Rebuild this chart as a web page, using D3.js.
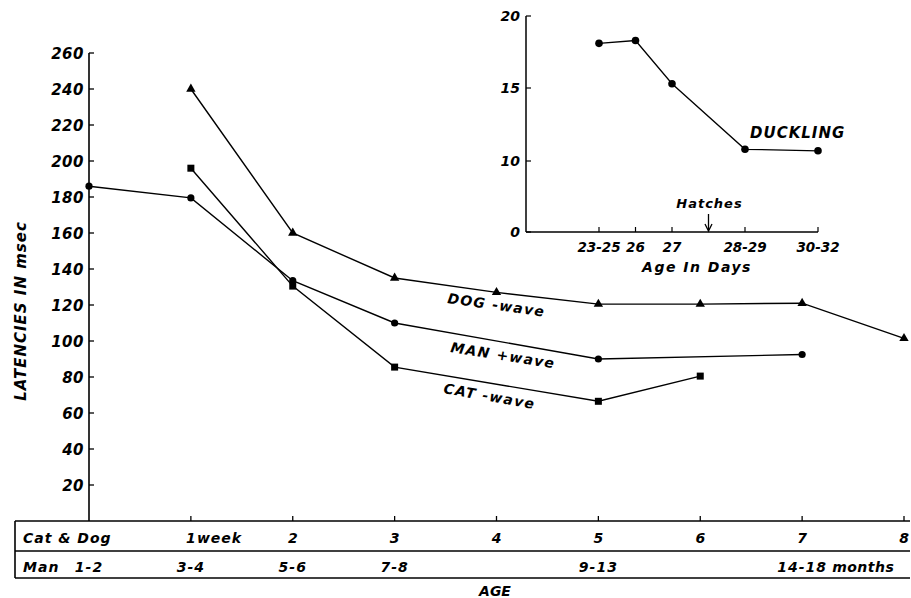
<!doctype html>
<html>
  <head>
    <script src="https://cdnjs.cloudflare.com/ajax/libs/d3/7.8.5/d3.min.js"></script>
    <style>
      body { margin: 0; background: #fff; }
      text { font-family: "DejaVu Sans", sans-serif; font-weight: bold; font-style: italic; fill: #000; }
    </style>
  </head>
  <body>
    <svg id="chart" width="911" height="598"></svg>
    <script>
      // main chart data (age slot index -> latency msec)
      var dogAge = [1, 2, 3, 4, 5, 6, 7, 8];
      var dogLatency = [240, 160, 135, 127, 120.5, 120.5, 121, 101.5];
      var manAge = [0, 1, 2, 3, 5, 7];
      var manLatency = [186, 179.5, 133.5, 110, 90, 92.5];
      var catAge = [1, 2, 3, 5, 6];
      var catLatency = [196, 130.5, 85.5, 66.5, 80.5];

      var yTicks = [20, 40, 60, 80, 100, 120, 140, 160, 180, 200, 220, 240, 260];
      var catDogLabels = ["", "1", "2", "3", "4", "5", "6", "7", "8"];
      var manLabels = ["1-2", "3-4", "5-6", "7-8", "", "9-13", "", "14-18", ""];

      // inset (duckling) data
      var duckSlot = [2, 3, 4, 6, 8];
      var duckLabels = ["23-25", "26", "27", "28-29", "30-32"];
      var duckLatency = [18.1, 18.3, 15.3, 10.8, 10.7];
      var duckYTicks = [0, 10, 15, 20];
      var hatchSlot = 5;

      var svg = d3.select("#chart");

      var x = d3.scaleLinear().domain([0, 8]).range([89, 904]);
      var y = d3.scaleLinear().domain([0, 260]).range([521, 53]);

      // y axis
      svg.append("line").attr("x1", x(0)).attr("x2", x(0))
        .attr("y1", y(260)).attr("y2", y(0))
        .attr("stroke", "#000").attr("stroke-width", 1.6);
      svg.selectAll(".ytick").data(yTicks).enter().append("line")
        .attr("x1", x(0)).attr("x2", x(0) + 5)
        .attr("y1", d => y(d)).attr("y2", d => y(d))
        .attr("stroke", "#000").attr("stroke-width", 1.3);
      svg.selectAll(".ylab").data(yTicks).enter().append("text")
        .attr("x", x(0) - 5).attr("y", d => y(d) + 5.5)
        .attr("text-anchor", "end").style("font-size", "15px")
        .style("letter-spacing", "0.5px")
        .text(d => d);

      svg.append("text")
        .attr("transform", "translate(26," + 311 + ") rotate(-90)")
        .attr("text-anchor", "middle").style("font-size", "15px")
        .style("letter-spacing", "1px")
        .text("LATENCIES IN msec");

      // table under the chart
      var tLeft = 15, tRight = 910, tTop = y(0), tMid = 551, tBottom = 578;
      [tTop, tMid, tBottom].forEach(function (yy) {
        svg.append("line").attr("x1", tLeft).attr("x2", tRight)
          .attr("y1", yy).attr("y2", yy)
          .attr("stroke", "#000").attr("stroke-width", 1.6);
      });
      svg.append("line").attr("x1", tLeft).attr("x2", tLeft)
        .attr("y1", tTop).attr("y2", tBottom)
        .attr("stroke", "#000").attr("stroke-width", 1.6);

      svg.selectAll(".xtick").data(d3.range(1, 9)).enter().append("line")
        .attr("x1", d => x(d)).attr("x2", d => x(d))
        .attr("y1", tTop).attr("y2", tTop - 5)
        .attr("stroke", "#000").attr("stroke-width", 1.3);

      svg.append("text").attr("x", 23).attr("y", 543)
        .style("font-size", "14px").style("letter-spacing", "1px").text("Cat & Dog");
      svg.append("text").attr("x", 23).attr("y", 572)
        .style("font-size", "14px").style("letter-spacing", "1px").text("Man");

      svg.selectAll(".cdlab").data(catDogLabels).enter().append("text")
        .attr("x", (d, i) => x(i)).attr("y", 543)
        .attr("text-anchor", "middle").style("font-size", "14px")
        .text(d => d);
      svg.append("text").attr("x", x(1) + 6).attr("y", 543)
        .style("font-size", "14px").style("letter-spacing", "1px").text("week");

      svg.selectAll(".manlab").data(manLabels).enter().append("text")
        .attr("x", (d, i) => x(i)).attr("y", 572)
        .attr("text-anchor", "middle").style("font-size", "14px")
        .style("letter-spacing", "1px")
        .text(d => d);
      svg.append("text").attr("x", x(7) + 30).attr("y", 572)
        .style("font-size", "14px").style("letter-spacing", "0.5px").text("months");

      svg.append("text").attr("x", 495).attr("y", 596)
        .attr("text-anchor", "middle").style("font-size", "14px").text("AGE");

      // series
      var line = d3.line().x(d => x(d[0])).y(d => y(d[1]));
      function series(ages, vals) { return ages.map((a, i) => [a, vals[i]]); }

      var dog = series(dogAge, dogLatency);
      var man = series(manAge, manLatency);
      var cat = series(catAge, catLatency);

      [dog, man, cat].forEach(function (s) {
        svg.append("path").datum(s).attr("d", line)
          .attr("fill", "none").attr("stroke", "#000").attr("stroke-width", 1.4);
      });

      svg.selectAll(".dogpt").data(dog).enter().append("path")
        .attr("transform", d => "translate(" + x(d[0]) + "," + y(d[1]) + ")")
        .attr("d", d3.symbol().type(d3.symbolTriangle).size(38))
        .attr("fill", "#000");
      svg.selectAll(".manpt").data(man).enter().append("circle")
        .attr("cx", d => x(d[0])).attr("cy", d => y(d[1])).attr("r", 3.6)
        .attr("fill", "#000");
      svg.selectAll(".catpt").data(cat).enter().append("rect")
        .attr("x", d => x(d[0]) - 3.5).attr("y", d => y(d[1]) - 3.5)
        .attr("width", 7).attr("height", 7).attr("fill", "#000");

      // series labels
      var seriesLabels = [
        { text: "DOG -wave", x: 447, y: 303, a: 8 },
        { text: "MAN +wave", x: 450, y: 352, a: 9 },
        { text: "CAT -wave", x: 443, y: 393, a: 10 }
      ];
      svg.selectAll(".slab").data(seriesLabels).enter().append("text")
        .attr("transform", d => "translate(" + d.x + "," + d.y + ") rotate(" + d.a + ")")
        .style("font-size", "14px").style("letter-spacing", "1.3px")
        .text(d => d.text);

      // inset
      var ix = d3.scaleLinear().domain([0, 8]).range([526, 818]);
      var iy = d3.scaleLinear().domain([0, 10, 15, 20]).range([232, 161, 88, 16]);

      svg.append("line").attr("x1", ix(0)).attr("x2", ix(0))
        .attr("y1", iy(20)).attr("y2", iy(0))
        .attr("stroke", "#000").attr("stroke-width", 1.5);
      svg.append("line").attr("x1", ix(0)).attr("x2", ix(8))
        .attr("y1", iy(0)).attr("y2", iy(0))
        .attr("stroke", "#000").attr("stroke-width", 1.5);
      svg.selectAll(".iytick").data(duckYTicks).enter().append("line")
        .attr("x1", ix(0)).attr("x2", ix(0) + 5)
        .attr("y1", d => iy(d)).attr("y2", d => iy(d))
        .attr("stroke", "#000").attr("stroke-width", 1.2);
      svg.selectAll(".iylab").data(duckYTicks).enter().append("text")
        .attr("x", ix(0) - 6).attr("y", d => iy(d) + 5)
        .attr("text-anchor", "end").style("font-size", "14px")
        .text(d => d);
      svg.selectAll(".ixtick").data(duckSlot).enter().append("line")
        .attr("x1", d => ix(d)).attr("x2", d => ix(d))
        .attr("y1", iy(0)).attr("y2", iy(0) - 5)
        .attr("stroke", "#000").attr("stroke-width", 1.2);
      svg.selectAll(".ixlab").data(duckSlot).enter().append("text")
        .attr("x", d => ix(d)).attr("y", 252)
        .attr("text-anchor", "middle").style("font-size", "13.5px")
        .text((d, i) => duckLabels[i]);
      svg.append("text").attr("x", 697).attr("y", 272)
        .attr("text-anchor", "middle").style("font-size", "14px")
        .style("letter-spacing", "1.5px").text("Age In Days");

      var duck = duckSlot.map((s, i) => [s, duckLatency[i]]);
      svg.append("path").datum(duck)
        .attr("d", d3.line().x(d => ix(d[0])).y(d => iy(d[1])))
        .attr("fill", "none").attr("stroke", "#000").attr("stroke-width", 1.3);
      svg.selectAll(".duckpt").data(duck).enter().append("circle")
        .attr("cx", d => ix(d[0])).attr("cy", d => iy(d[1])).attr("r", 3.8)
        .attr("fill", "#000");

      svg.append("text").attr("x", 750).attr("y", 138)
        .style("font-size", "15px").style("letter-spacing", "1px").text("DUCKLING");

      // hatches arrow
      svg.append("text").attr("x", ix(hatchSlot) + 1).attr("y", 208)
        .attr("text-anchor", "middle").style("font-size", "13px")
        .style("letter-spacing", "1px").text("Hatches");
      svg.append("line").attr("x1", ix(hatchSlot)).attr("x2", ix(hatchSlot))
        .attr("y1", 214).attr("y2", iy(0) - 2)
        .attr("stroke", "#000").attr("stroke-width", 1.3);
      svg.append("path")
        .attr("d", "M" + (ix(hatchSlot) - 3.5) + "," + (iy(0) - 8) + "L" + ix(hatchSlot) + "," + (iy(0) - 1) + "L" + (ix(hatchSlot) + 3.5) + "," + (iy(0) - 8))
        .attr("fill", "none").attr("stroke", "#000").attr("stroke-width", 1.3);
    </script>
  </body>
</html>
